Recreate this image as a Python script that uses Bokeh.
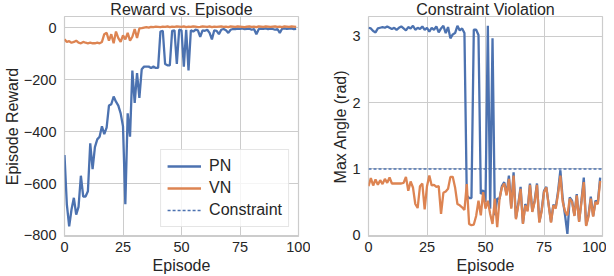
from bokeh.plotting import figure
from bokeh.layouts import row
from bokeh.models import FixedTicker, CustomJSTickFormatter, Range1d, Span, Legend, LegendItem
from bokeh.embed import file_html
from bokeh.resources import INLINE

episodes = list(range(100))

pn_reward = [-490, -680, -765, -700, -655, -720, -690, -570, -650, -650,
             -630, -445, -545, -460, -430, -420, -380, -410, -385, -300,
             -295, -265, -285, -300, -330, -380, -680, -330, -420, -165,
             -290, -175, -270, -160, -150, -150, -150, -155, -150, -155,
             -155, -15, -12, -140, -145, -145, -12, -10, -140, -8,
             -10, -150, -8, -165, -10, -15, -8, -10, -35, -10,
             -12, -8, -20, -45, -10, -12, -25, -8, -5, -10,
             -20, -8, -5, -6, -4, -5, -3, -6, -5, -4,
             -8, -5, -25, -6, -4, -5, -3, -6, -4, -5,
             -8, -5, -20, -4, -3, -5, -4, -3, -6, -5]

vn_reward = [-45, -55, -52, -58, -55, -50, -58, -60, -55, -58,
             -60, -58, -60, -60, -58, -60, -55, -25, -20, -50,
             -25, -60, -15, -40, -55, -30, -45, -20, -50, -35,
             -5, -40, -3, -2, 0, 2, 0, 3, 2, 4,
             3, 2, 4, 3, 5, 2, 4, 3, 5, 4,
             3, 5, 2, 4, 3, 5, 4, 2, 3, 5,
             4, 3, 5, 2, 4, 3, 4, 5, 3, 4,
             2, 5, 4, 3, 5, 4, 3, 2, 4, 5,
             3, 4, 2, 5, 4, 3, 5, 4, 3, 4,
             5, 3, 4, 2, 5, 4, 3, 5, 4, 3]

pn_angle = [3.13, 3.12, 3.08, 3.06, 3.12, 3.13, 3.14, 3.13, 3.15, 3.13,
            3.11, 3.13, 3.10, 3.13, 3.15, 3.12, 3.09, 3.14, 3.12, 3.16,
            3.10, 3.13, 3.11, 3.15, 3.10, 3.13, 3.07, 3.13, 3.10, 3.15,
            3.06, 3.12, 3.16, 3.05, 3.14, 2.97, 3.03, 3.05, 3.16, 3.09,
            3.12, 3.05, 0.60, 0.56, 0.56, 3.10, 3.10, 3.02, 0.62, 0.68,
            0.50, 3.16, 0.40, 2.97, 0.30, 0.55, 0.55, 0.74, 0.80, 0.62,
            0.90, 0.42, 0.95, 0.26, 0.47, 0.73, 0.18, 0.47, 0.38, 0.78,
            0.36, 0.52, 0.78, 0.20, 0.38, 0.67, 0.73, 0.46, 0.20, 0.46,
            0.42, 0.66, 0.98, 0.55, 0.30, 0.02, 0.57, 0.52, 0.30, 0.62,
            0.21, 0.52, 0.87, 0.15, 0.30, 0.58, 0.29, 0.52, 0.49, 0.87]

vn_angle = [0.74, 0.86, 0.75, 0.84, 0.76, 0.83, 0.77, 0.85, 0.79, 0.87,
            0.78, 0.78, 0.78, 0.78, 0.78, 0.79, 0.88, 0.67, 0.81, 0.72,
            0.47, 0.41, 0.74, 0.78, 0.39, 0.74, 0.90, 0.75, 0.76, 0.73,
            0.74, 0.32, 0.64, 0.66, 0.70, 0.88, 0.88, 0.72, 0.47, 0.45,
            0.42, 0.38, 0.77, 0.17, 0.15, 0.16, 0.29, 0.52, 0.30, 0.65,
            0.40, 0.52, 0.32, 0.17, 0.55, 0.12, 0.55, 0.72, 0.78, 0.60,
            0.85, 0.40, 0.90, 0.24, 0.45, 0.70, 0.17, 0.45, 0.36, 0.76,
            0.35, 0.50, 0.76, 0.19, 0.36, 0.65, 0.72, 0.45, 0.19, 0.45,
            0.40, 0.62, 0.90, 0.50, 0.36, 0.30, 0.55, 0.50, 0.29, 0.60,
            0.20, 0.50, 0.80, 0.14, 0.28, 0.55, 0.28, 0.50, 0.47, 0.82]

constraint = 1.0

x_ticks = [0, 25, 50, 75, 100]
reward_ticks = [0, -200, -400, -600, -800]
angle_ticks = [0, 1, 2, 3]

BLUE = "#4c72b0"
ORANGE = "#dd8452"
GRID = "#cccccc"
TEXT = "#262626"
FONT = "Liberation Sans"

minus_fmt = CustomJSTickFormatter(code="return tick < 0 ? '\u2212' + Math.abs(tick) : String(tick);")


def style(p):
    p.title.text_font = FONT
    p.title.text_font_size = "16px"
    p.title.text_font_style = "normal"
    p.title.text_color = TEXT
    p.title.align = "center"
    p.title.standoff = -3
    p.outline_line_color = GRID
    p.outline_line_width = 1.2
    p.background_fill_color = "white"
    p.border_fill_color = "white"
    for g in p.grid:
        g.grid_line_color = GRID
        g.grid_line_width = 1
    for ax in p.xaxis + p.yaxis:
        ax.axis_line_color = None
        ax.major_tick_line_color = None
        ax.minor_tick_line_color = None
        ax.major_tick_out = 0
        ax.major_tick_in = 0
        ax.major_label_text_font = FONT
        ax.major_label_text_font_size = "14.5px"
        ax.major_label_text_color = TEXT
        ax.axis_label_text_font = FONT
        ax.axis_label_text_font_size = "16px"
        ax.axis_label_text_font_style = "normal"
        ax.axis_label_text_color = TEXT
    p.xaxis.major_label_standoff = 5
    p.xaxis.axis_label_standoff = 2
    p.yaxis.major_label_standoff = 8
    p.yaxis.axis_label_standoff = 0
    p.xaxis.ticker = FixedTicker(ticks=x_ticks)
    p.xaxis.axis_label = "Episode"


p1 = figure(width=310, height=276, output_backend="svg", toolbar_location=None,
            title="Reward vs. Episode", x_range=Range1d(0, 100), y_range=Range1d(-804, 43),
            min_border_left=64, min_border_right=12, min_border_top=0, min_border_bottom=38)
style(p1)
p1.yaxis.ticker = FixedTicker(ticks=reward_ticks)
p1.yaxis.formatter = minus_fmt
p1.yaxis.axis_label = "Episode Reward"

r_pn = p1.line(episodes, pn_reward, line_color=BLUE, line_width=2.3)
r_vn = p1.line(episodes, vn_reward, line_color=ORANGE, line_width=2.3)
# legend-only renderer: a single point draws no line segment in the plot
r_c = p1.line(episodes[:1], [constraint], line_color=BLUE, line_width=1.5, line_dash="3 2")

legend = Legend(items=[LegendItem(label="PN", renderers=[r_pn]),
                       LegendItem(label="VN", renderers=[r_vn]),
                       LegendItem(label="Constraint", renderers=[r_c])],
                location="bottom_right")
legend.label_text_font = FONT
legend.label_text_font_size = "16px"
legend.label_text_color = TEXT
legend.label_height = 20
legend.glyph_height = 20
legend.glyph_width = 34
legend.label_standoff = 8
legend.spacing = 2
legend.padding = 6
legend.margin = 9
legend.border_line_color = GRID
legend.border_line_width = 1
legend.background_fill_alpha = 0.8
p1.add_layout(legend, "center")

p2 = figure(width=296, height=276, output_backend="svg", toolbar_location=None,
            title="Constraint Violation", x_range=Range1d(0, 100), y_range=Range1d(-0.02, 3.3),
            min_border_left=58, min_border_right=4, min_border_top=0, min_border_bottom=38)
style(p2)
p2.yaxis.ticker = FixedTicker(ticks=angle_ticks)
p2.yaxis.axis_label = "Max Angle (rad)"

p2.line(episodes, pn_angle, line_color=BLUE, line_width=2.3)
p2.line(episodes, vn_angle, line_color=ORANGE, line_width=2.3)
p2.add_layout(Span(location=constraint, dimension="width", line_color=BLUE,
                   line_width=1.5, line_dash="3 2"))

layout = row(p1, p2)

open("out.html", "w").write(file_html(layout, INLINE))
